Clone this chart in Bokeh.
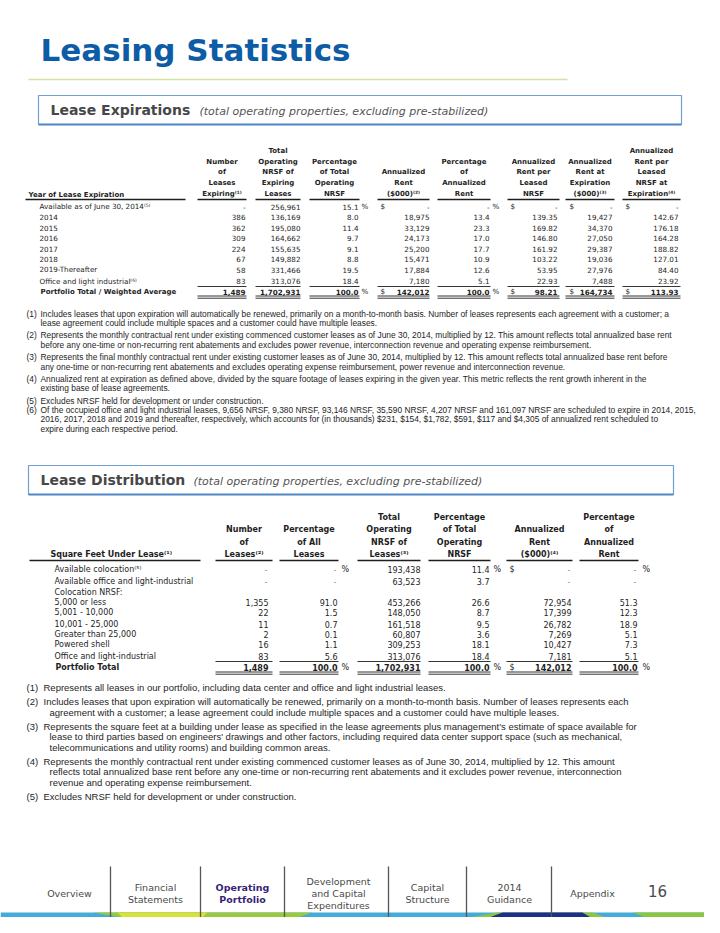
from bokeh.plotting import figure
from bokeh.models import Range1d, ColumnDataSource
from bokeh.core.properties import value
from bokeh.embed import file_html
from bokeh.resources import INLINE

# ---------------- data ----------------
title_text = "Leasing Statistics"
box1_title = "Lease Expirations"
box2_title = "Lease Distribution"
box_subtitle = "(total operating properties, excluding pre-stabilized)"

exp_header_label = "Year of Lease Expiration"
exp_labels = ["Available as of June 30, 2014\u207d\u2075\u207e", "2014", "2015", "2016", "2017", "2018",
              "2019-Thereafter", "Office and light industrial\u207d\u2076\u207e"]
exp_total_label = "Portfolio Total / Weighted Average"
exp_num_leases = [None, 386, 362, 309, 224, 67, 58, 83]
exp_nrsf = [256961, 136169, 195080, 164662, 155635, 149882, 331466, 313076]
exp_pct_nrsf = [15.1, 8.0, 11.4, 9.7, 9.1, 8.8, 19.5, 18.4]
exp_ann_rent = [None, 18975, 33129, 24173, 25200, 15471, 17884, 7180]
exp_pct_rent = [None, 13.4, 23.3, 17.0, 17.7, 10.9, 12.6, 5.1]
exp_rent_psf = [None, 139.35, 169.82, 146.80, 161.92, 103.22, 53.95, 22.93]
exp_rent_at_exp = [None, 19427, 34370, 27050, 29387, 19036, 27976, 7488]
exp_rent_psf_exp = [None, 142.67, 176.18, 164.28, 188.82, 127.01, 84.40, 23.92]
exp_totals = [1489, 1702931, 100.0, 142012, 100.0, 98.21, 164734, 113.93]
exp_headers = [
    ["Number", "of", "Leases", "Expiring\u207d\u00b9\u207e"],
    ["Total", "Operating", "NRSF of", "Expiring", "Leases"],
    ["Percentage", "of Total", "Operating", "NRSF"],
    ["Annualized", "Rent", "($000)\u207d\u00b2\u207e"],
    ["Percentage", "of", "Annualized", "Rent"],
    ["Annualized", "Rent per", "Leased", "NRSF"],
    ["Annualized", "Rent at", "Expiration", "($000)\u207d\u00b3\u207e"],
    ["Annualized", "Rent per", "Leased", "NRSF at", "Expiration\u207d\u2074\u207e"],
]

dist_header_label = "Square Feet Under Lease\u207d\u00b9\u207e"
dist_labels = ["Available colocation\u207d\u2075\u207e", "Available office and light-industrial",
               "Colocation NRSF:", " 5,000 or less", " 5,001 - 10,000", " 10,001 - 25,000",
               "  Greater than 25,000", "Powered shell", "Office and light-industrial"]
dist_total_label = "Portfolio Total"
dist_num_leases = [None, None, "", 1355, 22, 11, 2, 16, 83]
dist_pct_leases = [None, None, "", 91.0, 1.5, 0.7, 0.1, 1.1, 5.6]
dist_nrsf = [193438, 63523, "", 453266, 148050, 161518, 60807, 309253, 313076]
dist_pct_nrsf = [11.4, 3.7, "", 26.6, 8.7, 9.5, 3.6, 18.1, 18.4]
dist_ann_rent = [None, None, "", 72954, 17399, 26782, 7269, 10427, 7181]
dist_pct_rent = [None, None, "", 51.3, 12.3, 18.9, 5.1, 7.3, 5.1]
dist_totals = [1489, 100.0, 1702931, 100.0, 142012, 100.0]
dist_headers = [
    ["Number", "of", "Leases\u207d\u00b2\u207e"],
    ["Percentage", "of All", "Leases"],
    ["Total", "Operating", "NRSF of", "Leases\u207d\u00b3\u207e"],
    ["Percentage", "of Total", "Operating", "NRSF"],
    ["Annualized", "Rent", "($000)\u207d\u2074\u207e"],
    ["Percentage", "of", "Annualized", "Rent"],
]

notes1 = [
    ["Includes leases that upon expiration will automatically be renewed, primarily on a month-to-month basis. Number of leases represents each agreement with a customer; a",
     "lease agreement could include multiple spaces and a customer could have multiple leases."],
    ["Represents the monthly contractual rent under existing commenced customer leases as of June 30, 2014, multiplied by 12. This amount reflects total annualized base rent",
     "before any one-time or non-recurring rent abatements and excludes power revenue, interconnection revenue and operating expense reimbursement."],
    ["Represents the final monthly contractual rent under existing customer leases as of June 30, 2014, multiplied by 12. This amount reflects total annualized base rent before",
     "any one-time or non-recurring rent abatements and excludes operating expense reimbursement, power revenue and interconnection revenue."],
    ["Annualized rent at expiration as defined above, divided by the square footage of leases expiring in the given year. This metric reflects the rent growth inherent in the",
     "existing base of lease agreements."],
    ["Excludes NRSF held for development or under construction."],
    ["Of the occupied office and light industrial leases, 9,656 NRSF, 9,380 NRSF, 93,146 NRSF, 35,590 NRSF, 4,207 NRSF and 161,097 NRSF are scheduled to expire in 2014, 2015,",
     "2016, 2017, 2018 and 2019 and thereafter, respectively, which accounts for (in thousands) $231, $154, $1,782, $591, $117 and $4,305 of annualized rent scheduled to",
     "expire during each respective period."],
]
notes2 = [
    ["Represents all leases in our portfolio, including data center and office and light industrial leases."],
    ["Includes leases that upon expiration will automatically be renewed, primarily on a month-to-month basis. Number of leases represents each",
     "agreement with a customer; a lease agreement could include multiple spaces and a customer could have multiple leases."],
    ["Represents the square feet at a building under lease as specified in the lease agreements plus management's estimate of space available for",
     "lease to third parties based on engineers' drawings and other factors, including required data center support space (such as mechanical,",
     "telecommunications and utility rooms) and building common areas."],
    ["Represents the monthly contractual rent under existing commenced customer leases as of June 30, 2014, multiplied by 12. This amount",
     "reflects total annualized base rent before any one-time or non-recurring rent abatements and it excludes power revenue, interconnection",
     "revenue and operating expense reimbursement."],
    ["Excludes NRSF held for development or under construction."],
]

nav_items = [["Overview"], ["Financial", "Statements"], ["Operating", "Portfolio"],
             ["Development", "and Capital", "Expenditures"], ["Capital", "Structure"],
             ["2014", "Guidance"], ["Appendix"]]
nav_active = 2
page_number = "16"

# ---------------- figure ----------------
p = figure(width=704, height=917, output_backend="svg", toolbar_location=None,
           x_range=Range1d(8, 712), y_range=Range1d(925, 8),
           x_axis_type=None, y_axis_type=None, min_border=0)
p.grid.visible = False
p.outline_line_color = None
p.background_fill_color = "white"
p.border_fill_color = "white"

DARK = "#1e1e1e"
FONT = "DejaVu Sans"
NOTEFONT = "Liberation Sans"


def put(xs, ys, texts, size, align="left", style="normal", color=DARK, font=FONT):
    src = ColumnDataSource(dict(x=list(xs), y=list(ys), t=list(texts)))
    p.text(x="x", y="y", text="t", source=src, text_font=value(font),
           text_font_size=value(f"{size}px"), text_font_style=style,
           text_align=align, text_baseline="middle", text_color=color)


def hline(x0, x1, y, color=DARK, w=1.0):
    p.segment(x0=[x0], y0=[y], x1=[x1], y1=[y], line_color=color, line_width=w)


def fmt(v, kind):
    if v is None:
        return "-"
    if v == "":
        return ""
    if kind == "int":
        return f"{v:,.0f}"
    if kind == "d1":
        return f"{v:.1f}"
    return f"{v:,.2f}"


# ---------------- title ----------------
put([48], [57], [title_text], 31, style="bold", color="#0d5ca6")
hline(36, 575, 87, color="#cfe3a3", w=1.5)

# ---------------- section boxes ----------------
def section_box(x0, x1, y0, y1, title, tx, tw):
    p.quad(left=[x0], right=[x1], top=[y0], bottom=[y1], fill_color=None,
           line_color="#6f9fd3", line_width=1.2)
    hline(x0, x1, y1, color="#4f86c6", w=2)
    put([tx], [(y0 + y1) / 2], [title], 14, style="bold", color="#474747")
    put([tx + tw], [(y0 + y1) / 2 + 1], [box_subtitle], 11, style="italic", color="#555555")


section_box(46, 689, 103, 132, box1_title, 58, 149)
section_box(36, 681, 473, 502, box2_title, 48, 153)

# ---------------- table 1 ----------------
cols1 = [  # x0, x1, right, $ x, % x
    (205, 254, 253, None, None),
    (263, 308, 308, None, None),
    (317, 367, 366, None, 369),
    (385, 437, 437, 388, None),
    (445, 498, 497, None, 500),
    (515, 567, 565, 518, None),
    (573, 622, 620, 577, None),
    (630, 688, 686, 633, None),
]
kinds1 = ["int", "int", "d1", "int", "d1", "d2", "int", "d2"]
series1 = [exp_num_leases, exp_nrsf, exp_pct_nrsf, exp_ann_rent, exp_pct_rent,
           exp_rent_psf, exp_rent_at_exp, exp_rent_psf_exp]
row_y1 = [214 + 10.5 * i for i in range(7)] + [288.5]
tot_y1 = 299
hdr_bottom1, hdr_step1 = 201, 10.6
FS1 = 7.2

put([36], [hdr_bottom1 + 1], [exp_header_label], 7, style="bold")
hline(33, 193, 207, w=1.3)
for (x0, x1, r, dx, px), hdr, ser, k, tot in zip(cols1, exp_headers, series1, kinds1, exp_totals):
    cx = (x0 + x1) / 2
    n = len(hdr)
    put([cx] * n, [hdr_bottom1 - hdr_step1 * (n - 1 - i) for i in range(n)], hdr, 7,
        align="center", style="bold")
    hline(x0, x1, 207, w=1.3)
    put([r] * len(ser), row_y1, [fmt(v, k) for v in ser], FS1, align="right")
    hline(x0, x1, 294, w=0.9)
    put([r], [tot_y1], [fmt(tot, k)], FS1, align="right", style="bold")
    hline(x0, x1, 303.5, w=0.9)
    hline(x0, x1, 305.7, w=0.9)
    if dx is not None:
        put([dx, dx], [row_y1[0], tot_y1], ["$", "$"], FS1)
    if px is not None:
        put([px, px], [row_y1[0], tot_y1], ["%", "%"], FS1)
put([47] * len(exp_labels), row_y1, exp_labels, FS1)
put([48], [tot_y1], [exp_total_label], 7, style="bold")

# ---------------- footnotes 1 ----------------
ny = 321
for i, lines in enumerate(notes1):
    put([34], [ny], [f"({i + 1})"], 8.4, font=NOTEFONT)
    put([48] * len(lines), [ny + 9.4 * j for j in range(len(lines))], lines, 8.4, font=NOTEFONT)
    ny += 9.4 * len(lines) + (3 if i != 4 else -0.4)

# ---------------- table 2 ----------------
cols2 = [
    (223, 280, 276, None, None),
    (287, 346, 345, None, 349),
    (365, 428, 428, None, None),
    (436, 498, 497, None, 501),
    (514, 580, 579, 517, None),
    (587, 646, 645, None, 650),
]
kinds2 = ["int", "d1", "int", "d1", "int", "d1"]
series2 = [dist_num_leases, dist_pct_leases, dist_nrsf, dist_pct_nrsf, dist_ann_rent, dist_pct_rent]
row_y2 = [577, 589, 600, 610, 620, 631.5, 642, 652, 663.5]
tot_y2 = 675
hdr_bottom2, hdr_step2 = 562, 12.3
FS2 = 8

put([58], [hdr_bottom2], [dist_header_label], 8, style="bold")
hline(37, 208, 568, w=1.3)
for (x0, x1, r, dx, px), hdr, ser, k, tot in zip(cols2, dist_headers, series2, kinds2, dist_totals):
    cx = (x0 + x1) / 2
    n = len(hdr)
    put([cx] * n, [hdr_bottom2 - hdr_step2 * (n - 1 - i) for i in range(n)], hdr, 8,
        align="center", style="bold")
    hline(x0, x1, 568, w=1.3)
    txt = [fmt(v, k) for v in ser]
    put([r] * len(ser), row_y2, [t if t != "-" else "" for t in txt], FS2, align="right")
    dash_y = [y for y, t in zip(row_y2, txt) if t == "-"]
    put([r - 1] * len(dash_y), dash_y, ["-"] * len(dash_y), FS2, align="right", color="#8a8a8a")
    hline(x0, x1, 669, w=0.9)
    put([r], [tot_y2], [fmt(tot, k)], FS2, align="right", style="bold")
    hline(x0, x1, 679.5, w=0.9)
    hline(x0, x1, 681.7, w=0.9)
    if dx is not None:
        put([dx, dx], [row_y2[0], tot_y2], ["$", "$"], FS2)
    if px is not None:
        put([px, px], [row_y2[0], tot_y2], ["%", "%"], FS2)
put([62] * len(dist_labels), row_y2, dist_labels, FS2)
put([63], [tot_y2], [dist_total_label], 8, style="bold")

# ---------------- footnotes 2 ----------------
ny = 695
for i, lines in enumerate(notes2):
    put([34], [ny], [f"({i + 1})"], 9.5, font=NOTEFONT)
    xs = [51] + [57] * (len(lines) - 1)
    put(xs, [ny + 10.5 * j for j in range(len(lines))], lines, 9.5, font=NOTEFONT)
    ny += 10.5 * len(lines) + 3.5

# ---------------- bottom band ----------------
p.quad(left=[8], right=[712], top=[920], bottom=[935], fill_color="#44acd9", line_color=None)
p.patch(x=[100, 320, 275, 190], y=[920, 920, 935, 935], fill_color="#9cc93c", line_color=None)
p.patch(x=[125, 215, 200, 140], y=[920, 920, 935, 935], fill_color="#d7e23a", line_color=None)
p.patch(x=[420, 505, 600, 640, 620, 420], y=[935, 920, 920, 935, 935, 935], fill_color="#8cc63f", line_color=None)
p.patch(x=[470, 510, 590, 615], y=[935, 920, 920, 935], fill_color="#1e2f8a", line_color=None)
p.patch(x=[490, 520, 580, 600], y=[935, 925, 925, 935], fill_color="#5b2b8c", line_color=None)
p.patch(x=[640, 712, 712, 680], y=[920, 920, 935, 935], fill_color="#8cc63f", line_color=None)

# ---------------- navigation ----------------
seps = [118, 208, 292, 396, 474, 559]
p.segment(x0=seps, y0=[874] * len(seps), x1=seps, y1=[926] * len(seps),
          line_color="#555555", line_width=1.3)
nav_cx = [77, 163, 250, 346, 435, 517, 600]
for i, (cx, lines) in enumerate(zip(nav_cx, nav_items)):
    n = len(lines)
    ys = [901 + 12 * (j - (n - 1) / 2) for j in range(n)]
    if i == nav_active:
        put([cx] * n, ys, lines, 9.5, align="center", style="bold", color="#3a1f78")
    else:
        put([cx] * n, ys, lines, 9.5, align="center", color="#4a4a4a")
put([665], [898], [page_number], 15, align="center", color="#4a4a4a")

open("out.html", "w").write(file_html(p, INLINE))
